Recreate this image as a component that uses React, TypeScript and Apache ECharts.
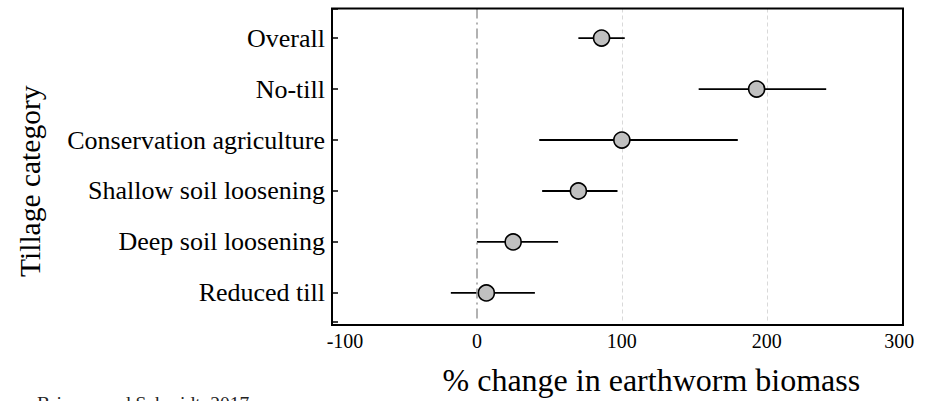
import React, { useEffect, useRef } from "react";
import * as echarts from "echarts";

const categories = [
  "Overall",
  "No-till",
  "Conservation agriculture",
  "Shallow soil loosening",
  "Deep soil loosening",
  "Reduced till",
];
const means = [86, 193, 100, 70, 25, 6.5];
const lower = [70, 153, 43, 45, 0, -18];
const upper = [102, 241, 180, 97, 56, 40];
const xTicks = [-100, 0, 100, 200, 300];

const FONT = "Liberation Serif";

export default function App() {
  const ref = useRef<HTMLDivElement>(null);
  useEffect(() => {
    if (!ref.current) return;
    const chart = echarts.init(ref.current, null, { renderer: "svg" });
    const pointData = means.map((m, i) => [m, i]);
    const barData = lower.map((lo, i) => [lo, upper[i], i]);
    chart.setOption({
      animation: false,
      grid: [
        { left: 332, right: 15.3, top: 8.5, bottom: 76, show: false, containLabel: false },
        { left: 332, right: 24, top: 8.5, bottom: 76, show: true, borderColor: "#000", borderWidth: 2, backgroundColor: "transparent", z: 10 },
      ],
      xAxis: [
        {
          type: "value",
          gridIndex: 0,
          min: xTicks[0],
          max: xTicks[xTicks.length - 1],
          interval: 100,
          axisLine: { show: false, onZero: false },
          axisTick: { show: false },
          splitLine: {
            show: true,
            lineStyle: {
              color: ["rgba(0,0,0,0)", "rgba(0,0,0,0)", "#d9d9d9", "#d9d9d9", "rgba(0,0,0,0)"],
              type: [4, 3],
              width: 1,
            },
          },
          axisLabel: {
            margin: 9,
            formatter: (v: number) => {
              if (v === xTicks[0]) return "{l|" + v + "}";
              if (v === xTicks[xTicks.length - 1]) return "{r|" + v + "}";
              return "{n|" + v + "}";
            },
            rich: {
              l: { fontFamily: FONT, fontSize: 20, color: "#000", padding: [0, 0, 0, 26] },
              r: { fontFamily: FONT, fontSize: 20, color: "#000", padding: [0, 25, 0, 0] },
              n: { fontFamily: FONT, fontSize: 20, color: "#000" },
            },
          },
          name: "% change in earthworm biomass",
          nameLocation: "middle",
          nameGap: 42,
          nameTextStyle: { fontFamily: FONT, fontSize: 32, color: "#000", padding: [0, 0, 0, 59] },
        },
        { type: "value", gridIndex: 1, show: false, min: 0, max: 1 },
      ],
      yAxis: [
        {
          type: "value",
          gridIndex: 0,
          inverse: true,
          min: -0.58,
          max: categories.length - 1 + 0.57,
          minInterval: 1,
          maxInterval: 1,
          axisLine: { show: false, onZero: false },
          axisTick: { show: true, inside: true, length: 6, lineStyle: { color: "#000", width: 1.5 } },
          splitLine: { show: false },
          axisLabel: {
            margin: 7,
            fontFamily: FONT,
            fontSize: 26,
            color: "#000",
            formatter: (v: number) => {
              const r = Math.round(v);
              if (Math.abs(v - r) < 1e-6 && r >= 0 && r < categories.length) return categories[r];
              return "";
            },
          },
          name: "Tillage category",
          nameLocation: "middle",
          nameRotate: 90,
          nameGap: 287,
          nameTextStyle: { fontFamily: FONT, fontSize: 29.5, color: "#000", padding: [0, 32, 0, 0] },
        },
        { type: "value", gridIndex: 1, show: false, min: 0, max: 1 },
      ],
      series: [
        {
          type: "custom",
          xAxisIndex: 0,
          yAxisIndex: 0,
          data: barData,
          z: 2,
          renderItem: (params: any, api: any) => {
            const p1 = api.coord([api.value(0), api.value(2)]);
            const p2 = api.coord([api.value(1), api.value(2)]);
            return {
              type: "line",
              shape: { x1: p1[0], y1: p1[1], x2: p2[0], y2: p2[1] },
              style: { stroke: "#000", lineWidth: 1.8 },
            };
          },
          markLine: {
            silent: true,
            symbol: "none",
            label: { show: false },
            lineStyle: { color: "#999", type: [10, 4, 2, 4], width: 1.5 },
            data: [{ xAxis: 0 }],
          },
        },
        {
          type: "scatter",
          xAxisIndex: 0,
          yAxisIndex: 0,
          data: pointData,
          z: 3,
          symbol: "circle",
          symbolSize: 16,
          itemStyle: { color: "#c0c0c0", borderColor: "#000", borderWidth: 1.6, opacity: 1 },
        },
      ],
      graphic: [
        {
          type: "text",
          left: 37,
          top: 393,
          style: { text: "Briones and Schmidt, 2017", fontFamily: FONT, fontSize: 19.5, fill: "#222" },
        },
      ],
    });
    return () => chart.dispose();
  }, []);
  return (
    <div
      ref={ref}
      style={{ position: "absolute", left: 0, top: 0, width: 927, height: 401 }}
    />
  );
}
